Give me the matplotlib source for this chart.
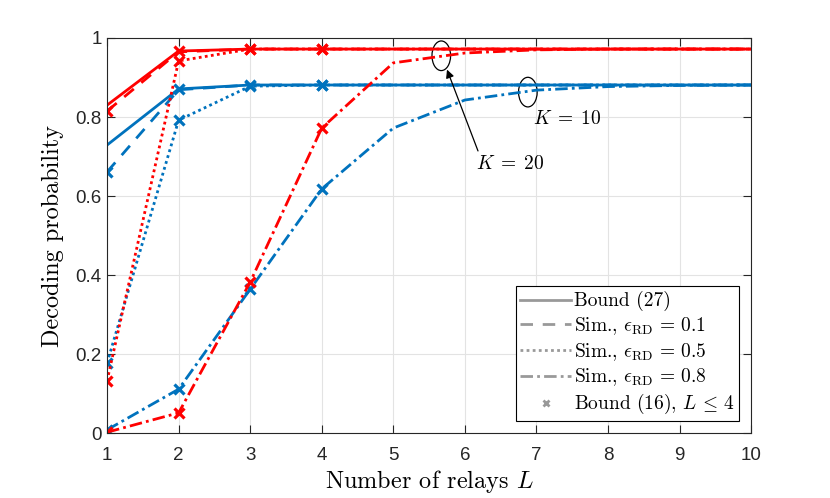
import matplotlib
matplotlib.use("Agg")
import matplotlib.pyplot as plt
from matplotlib.patches import Ellipse
from matplotlib.lines import Line2D

plt.rcParams['mathtext.fontset'] = 'cm'
plt.rcParams['axes.formatter.use_mathtext'] = True

L = [1, 2, 3, 4, 5, 6, 7, 8, 9, 10]
L_b16 = [1, 2, 3, 4]

# K = 20 (red)
k20_bound27 = [0.830, 0.967, 0.972, 0.972, 0.972, 0.972, 0.972, 0.972, 0.972, 0.972]
k20_sim01 = [0.815, 0.965, 0.972, 0.972, 0.972, 0.972, 0.972, 0.972, 0.972, 0.972]
k20_sim05 = [0.132, 0.942, 0.972, 0.972, 0.972, 0.972, 0.972, 0.972, 0.972, 0.972]
k20_sim08 = [0.002, 0.051, 0.382, 0.772, 0.937, 0.962, 0.970, 0.972, 0.972, 0.972]
k20_b16_01 = [0.815, 0.967, 0.972, 0.972]
k20_b16_05 = [0.132, 0.942, 0.972, 0.972]
k20_b16_08 = [0.002, 0.051, 0.382, 0.772]

# K = 10 (blue)
k10_bound27 = [0.729, 0.871, 0.881, 0.881, 0.881, 0.881, 0.881, 0.881, 0.881, 0.881]
k10_sim01 = [0.661, 0.869, 0.881, 0.881, 0.881, 0.881, 0.881, 0.881, 0.881, 0.881]
k10_sim05 = [0.177, 0.792, 0.878, 0.881, 0.881, 0.881, 0.881, 0.881, 0.881, 0.881]
k10_sim08 = [0.008, 0.111, 0.364, 0.618, 0.772, 0.843, 0.868, 0.877, 0.880, 0.881]
k10_b16_01 = [0.661, 0.871, 0.881, 0.881]
k10_b16_05 = [0.177, 0.792, 0.878, 0.881]
k10_b16_08 = [0.008, 0.111, 0.364, 0.618]

legend_labels = ["Bound (27)", r"Sim., $\epsilon_{\rm RD}\,=\,0.1$", r"Sim., $\epsilon_{\rm RD}\,=\,0.5$",
                 r"Sim., $\epsilon_{\rm RD}\,=\,0.8$", r"Bound (16), $L\,\leq\,4$"]

BLUE = "#0072BD"
RED = "#FF0000"
GRAY = "#999999"
LW = 2.0
DASH = (0, (4.5, 3.5))
DOT = (0, (1, 1.2))
DASHDOT = (0, (4.5, 1.5, 1, 1.5))

fig = plt.figure(figsize=(8.3, 4.98), dpi=100)
ax = fig.add_axes([0.129, 0.1305, 0.776, 0.7932])

for color, b27, s01, s05, s08, m01, m05, m08 in [
        (BLUE, k10_bound27, k10_sim01, k10_sim05, k10_sim08, k10_b16_01, k10_b16_05, k10_b16_08),
        (RED, k20_bound27, k20_sim01, k20_sim05, k20_sim08, k20_b16_01, k20_b16_05, k20_b16_08)]:
    ax.plot(L, b27, color=color, lw=LW, ls='-')
    ax.plot(L, s01, color=color, lw=LW, ls=DASH)
    ax.plot(L, s05, color=color, lw=LW, ls=DOT)
    ax.plot(L, s08, color=color, lw=LW, ls=DASHDOT)
    for m in (m01, m05, m08):
        ax.plot(L_b16, m, ls='none', marker='x', ms=7.5, mew=2.3, color=color)

ax.set_xlim(1, 10)
ax.set_ylim(0, 1)
ax.set_xticks(L)
ax.set_yticks([0, 0.2, 0.4, 0.6, 0.8, 1])
ax.set_yticklabels(["0", "0.2", "0.4", "0.6", "0.8", "1"])
ax.set_xticklabels([str(v) for v in L])
for lab in ax.get_xticklabels() + ax.get_yticklabels():
    lab.set_fontfamily("Liberation Sans")
    lab.set_fontsize(13.5)
ax.tick_params(direction='in', top=True, right=True, length=6, width=0.8, colors='#262626')
ax.tick_params(axis='x', pad=10)
ax.tick_params(axis='y', pad=4)
ax.grid(True, color='#e3e3e3', lw=0.8)
ax.set_axisbelow(True)
for s in ax.spines.values():
    s.set_color('#262626')
    s.set_linewidth(0.8)

ax.set_xlabel(r"Number of relays $L$", fontfamily="cmr10", fontsize=17.5, labelpad=3)
ax.set_ylabel("Decoding probability", fontfamily="cmr10", fontsize=17.5, labelpad=8)

# annotations
ax.add_patch(Ellipse((5.67, 0.955), 0.26, 0.075, fill=False, ec='black', lw=0.9))
ax.add_patch(Ellipse((6.88, 0.863), 0.26, 0.075, fill=False, ec='black', lw=0.9))
ax.text(6.95, 0.797, r"$K\;=\;10$", fontsize=14, va='center', ha='left')
ax.annotate(r"$K\;=\;20$", xy=(5.75, 0.92), xytext=(6.15, 0.683), fontsize=14,
            va='center', ha='left',
            arrowprops=dict(arrowstyle='-|>', color='black', lw=0.9, mutation_scale=12,
                            shrinkA=0, shrinkB=0, relpos=(0.05, 1.0)))

handles = [
    Line2D([], [], color=GRAY, lw=LW, ls='-'),
    Line2D([], [], color=GRAY, lw=LW, ls=DASH),
    Line2D([], [], color=GRAY, lw=LW, ls=DOT),
    Line2D([], [], color=GRAY, lw=LW, ls=DASHDOT),
    Line2D([], [], color=GRAY, ls='none', marker='x', ms=5, mew=2),
]
leg = ax.legend(handles, legend_labels, loc='lower right', prop={'family': 'cmr10', 'size': 14},
                frameon=True, fancybox=False, framealpha=1, edgecolor='black',
                handlelength=2.6, handletextpad=0.15, borderpad=0.25, labelspacing=0.2,
                borderaxespad=0.6)
leg.get_frame().set_linewidth(0.8)

fig.savefig("out.png", dpi=100)
